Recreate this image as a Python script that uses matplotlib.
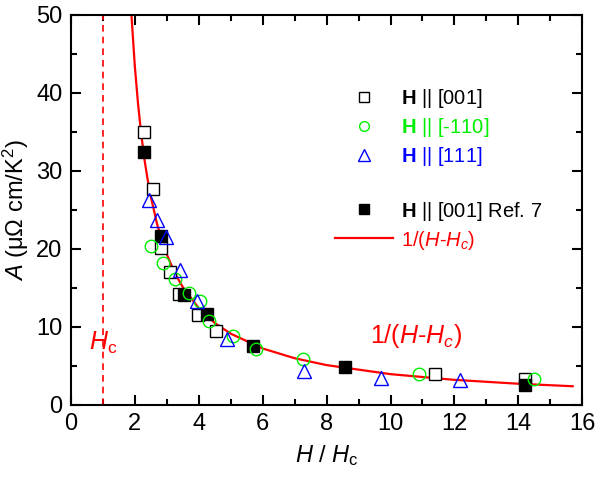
import matplotlib
matplotlib.use("Agg")
import matplotlib.pyplot as plt
from matplotlib.lines import Line2D

plt.rcParams['font.family'] = ['Liberation Sans', 'DejaVu Sans']
plt.rcParams['mathtext.fontset'] = 'custom'
plt.rcParams['mathtext.rm'] = 'Liberation Sans'
plt.rcParams['mathtext.it'] = 'Liberation Sans:italic'
plt.rcParams['mathtext.bf'] = 'Liberation Sans:bold'

# H || [001] (open squares)
h001 = [2.29, 2.57, 2.83, 3.11, 3.39, 3.99, 4.55, 11.39, 14.2]
a001 = [35.0, 27.7, 20.1, 17.0, 14.2, 11.5, 9.5, 4.0, 3.3]

# H || [-110] (green circles)
h110 = [2.52, 2.89, 3.25, 3.70, 4.05, 4.32, 5.07, 5.80, 7.26, 10.88, 14.48]
a110 = [20.4, 18.2, 16.1, 14.3, 13.3, 10.8, 8.8, 7.2, 5.9, 4.0, 3.3]

# H || [111] (blue triangles)
h111 = [2.44, 2.68, 2.97, 3.41, 3.93, 4.87, 7.29, 9.71, 12.16]
a111 = [26.3, 23.7, 21.5, 17.3, 13.3, 8.5, 4.4, 3.4, 3.2]

# H || [001] Ref. 7 (filled squares)
href = [2.28, 2.83, 3.53, 4.26, 5.70, 8.56, 14.22]
aref = [32.4, 21.6, 14.1, 11.7, 7.5, 4.9, 2.6]

# red 1/(H-Hc) curve
hcurve = [1.85, 1.9, 2.0, 2.1, 2.2, 2.3, 2.4, 2.5, 2.7, 3.0, 3.25, 3.5, 4.0, 4.5,
          5.0, 6.0, 7.0, 8.0, 10.0, 12.0, 14.0, 15.7]
acurve = [53.4, 49.6, 43.4, 38.6, 34.7, 31.5, 28.9, 26.7, 23.1, 19.3, 16.9, 15.1, 12.4, 10.5,
          9.13, 7.23, 5.98, 5.10, 3.94, 3.21, 2.71, 2.39]

hc = 1.0

green = '#00ee00'

fig = plt.figure(figsize=(5.96, 4.82), dpi=100)
ax = fig.add_axes([0.119, 0.160, 0.858, 0.809])

ax.axvline(hc, color='red', ls=(0, (4, 3)), lw=1.2)
ax.plot(hcurve, acurve, color='red', lw=1.6, zorder=2)

ms = 8.5
ax.plot(h001, a001, 's', mfc='white', mec='black', mew=1.0, ms=ms, zorder=3)
ax.plot(h110, a110, 'o', mfc='none', mec=green, mew=1.0, ms=ms + 0.5, zorder=4)
ax.plot(h111, a111, '^', mfc='none', mec='blue', mew=1.0, ms=ms + 1, zorder=4)
ax.plot(href, aref, 's', mfc='black', mec='black', ms=ms, zorder=3)

ax.text(hc, 7.9, r'$H_{\rm c}$', color='red', fontsize=18, ha='center', va='center')
ax.text(10.8, 8.8, r'$1/(H$-$H_c)$', color='red', fontsize=18, ha='center', va='center')

ax.set_xlim(0, 16)
ax.set_ylim(0, 50)
ax.set_xticks(range(0, 17, 2))
ax.set_xticks(range(0, 17, 1), minor=True)
ax.set_yticks(range(0, 51, 10))
ax.set_yticks(range(0, 51, 5), minor=True)
ax.tick_params(which='both', direction='in', top=True, right=True, labelsize=17, width=1.5)
ax.tick_params(which='major', length=7, pad=6)
ax.tick_params(which='minor', length=4)
for s in ax.spines.values():
    s.set_linewidth(1.5)

ax.set_xlabel(r'$H$ / $H_{\rm c}$', fontsize=17, labelpad=6)
ax.set_ylabel(r'$A$ (μΩ cm/K$^2$)', fontsize=17, labelpad=4)

handles = [
    Line2D([], [], ls='none', marker='s', mfc='white', mec='black', ms=7),
    Line2D([], [], ls='none', marker='o', mfc='none', mec=green, ms=7),
    Line2D([], [], ls='none', marker='^', mfc='none', mec='blue', ms=8),
    Line2D([], [], ls='none'),
    Line2D([], [], ls='none', marker='s', mfc='black', mec='black', ms=7),
    Line2D([], [], color='red', lw=1.6),
]
labels = [r'$\mathbf{H}$ || [001]', r'$\mathbf{H}$ || [-110]', r'$\mathbf{H}$ || [111]', ' ',
          r'$\mathbf{H}$ || [001] Ref. 7', r'$1/(H$-$H_c)$']
leg = ax.legend(handles, labels, loc='upper left', bbox_to_anchor=(0.50, 0.835), frameon=False,
                fontsize=14.5, handlelength=2.9, handletextpad=0.4, labelspacing=0.3,
                borderaxespad=0)
for t, c in zip(leg.get_texts(), ['black', green, 'blue', 'black', 'black', 'red']):
    t.set_color(c)

fig.savefig('out.png', dpi=100)
